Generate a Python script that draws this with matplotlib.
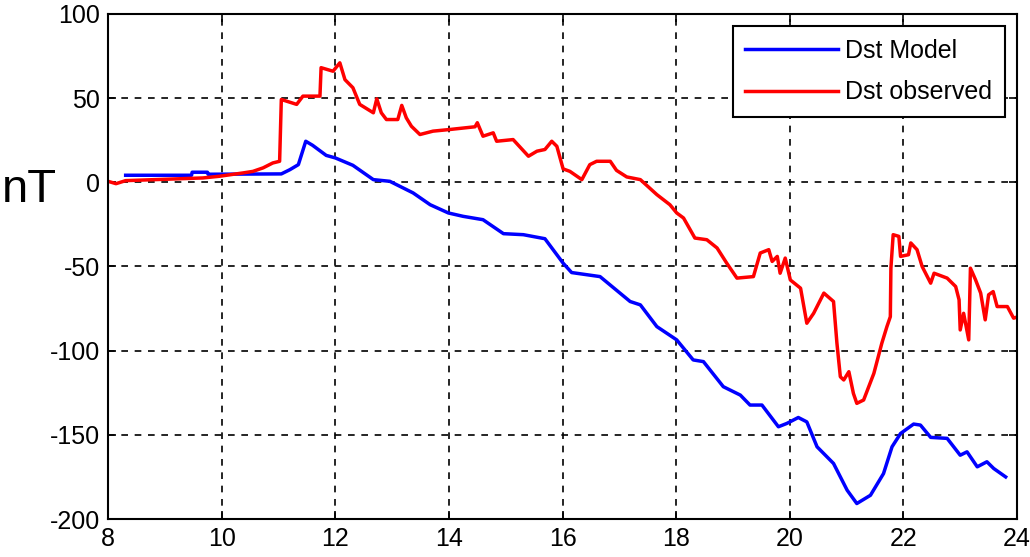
import matplotlib
matplotlib.use("Agg")
import matplotlib.pyplot as plt

# Dst Model (blue)
model_x = [8.31, 9.47, 9.48, 9.75, 9.76, 11.05, 11.2, 11.35, 11.48, 11.6, 11.84, 12.0, 12.31, 12.67, 12.96,
           13.37, 13.67, 13.99, 14.25, 14.6, 14.96, 15.31, 15.69, 16.01, 16.16, 16.66, 17.19, 17.37,
           17.66, 18.01, 18.3, 18.48, 18.83, 19.13, 19.3, 19.51, 19.8, 19.95, 20.15, 20.3, 20.48,
           20.77, 21.01, 21.18, 21.42, 21.65, 21.8, 21.95, 22.18, 22.3, 22.48, 22.77, 23.0, 23.12,
           23.3, 23.47, 23.59, 23.8]
model_y = [4.2, 4.2, 6.0, 6.0, 4.8, 5.0, 7.5, 10.5, 24.4, 22.0, 16.0, 14.5, 10.1, 1.6, 0.6,
           -6.3, -13.3, -18.2, -20.2, -22.2, -30.5, -31.1, -33.5, -48.0, -53.6, -56.0, -70.8, -72.8,
           -85.7, -93.6, -105.5, -106.5, -121.4, -126.4, -132.3, -132.3, -145.2, -143.2, -139.7, -142.3, -157.1,
           -167.0, -182.9, -190.8, -185.9, -173.0, -157.1, -149.2, -143.6, -144.2, -151.5, -152.1, -162.1, -160.1,
           -169.0, -166.0, -170.0, -175.0]

# Dst observed (red)
obs_x = [8.0, 8.14, 8.31, 9.67, 9.96, 10.38, 10.55, 10.73, 10.9, 11.02, 11.05, 11.32, 11.43, 11.73, 11.75,
         11.96, 12.08, 12.17, 12.31, 12.43, 12.67, 12.73, 12.81, 12.9, 13.1, 13.17, 13.25, 13.34, 13.49,
         13.72, 14.02, 14.46, 14.5, 14.6, 14.78, 14.84, 15.13, 15.4, 15.55, 15.69, 15.81, 15.9, 16.01,
         16.13, 16.34, 16.48, 16.6, 16.84, 16.95, 17.13, 17.37, 17.66, 17.89, 18.01, 18.13, 18.33, 18.54,
         18.72, 18.89, 19.07, 19.36, 19.48, 19.63, 19.69, 19.78, 19.83, 19.92, 20.01, 20.19, 20.3, 20.42,
         20.6, 20.77, 20.83, 20.89, 20.95, 21.04, 21.12, 21.18, 21.3, 21.48, 21.62, 21.71, 21.77, 21.78,
         21.82, 21.92, 21.95, 22.09, 22.13, 22.24, 22.33, 22.48, 22.54, 22.77, 22.92, 22.98, 23.0, 23.06,
         23.15, 23.18, 23.27, 23.36, 23.44, 23.5, 23.58, 23.65, 23.83, 23.94, 24.0]
obs_y = [0.6, -0.8, 1.0, 2.6, 3.6, 5.6, 6.5, 8.6, 11.5, 12.5, 49.2, 46.3, 51.2, 51.2, 68.1,
         66.0, 71.0, 61.0, 56.2, 46.3, 41.3, 49.6, 41.3, 37.3, 37.3, 45.7, 38.3, 33.3, 28.4,
         30.4, 31.4, 33.0, 35.4, 27.4, 29.4, 24.4, 25.4, 15.5, 18.5, 19.5, 24.4, 21.4, 8.0,
         6.5, 1.6, 10.5, 12.5, 12.5, 7.1, 3.2, 1.6, -7.3, -13.3, -18.2, -21.2, -33.1, -34.1,
         -39.0, -48.0, -56.9, -56.0, -42.0, -40.0, -47.0, -44.0, -54.0, -45.0, -58.0, -62.9, -83.7, -77.8,
         -65.8, -70.8, -95.6, -115.5, -117.4, -112.5, -125.4, -131.3, -129.3, -113.5, -95.6, -85.7, -79.8, -51.0,
         -31.1, -32.1, -44.0, -43.0, -36.0, -40.0, -50.0, -59.9, -54.0, -56.9, -61.9, -69.8, -87.7, -77.8,
         -93.6, -51.0, -57.9, -65.8, -81.7, -66.8, -64.9, -73.8, -73.8, -80.7, -80.0]

x_ticks = [8, 10, 12, 14, 16, 18, 20, 22, 24]
y_ticks = [-200, -150, -100, -50, 0, 50, 100]

plt.rcParams['font.family'] = ['Liberation Sans', 'DejaVu Sans']
plt.rcParams['axes.unicode_minus'] = False

fig = plt.figure(figsize=(10.3, 5.57), dpi=100)
ax = fig.add_axes([0.1049, 0.0682, 0.8825, 0.9067])
ax.plot(model_x, model_y, color='#0000ff', lw=2.5, label='Dst Model')
ax.plot(obs_x, obs_y, color='#ff0000', lw=2.5, label='Dst observed')
ax.set_xlim(8, 24)
ax.set_ylim(-200, 100)
ax.set_xticks(x_ticks)
ax.set_yticks(y_ticks)
ax.tick_params(direction='in', top=True, right=True, labelsize=18, length=6, width=1.2, pad=6)
ax.grid(True, color='black', linestyle=(0, (4, 4)), linewidth=1.2)
for s in ax.spines.values():
    s.set_linewidth(1.5)
ax.text(-0.086, 0.651, 'nT', transform=ax.transAxes, rotation=0, fontsize=34,
        ha='center', va='center')
leg = ax.legend(loc='upper right', fontsize=18, handlelength=3.7, handletextpad=0.3,
                fancybox=False, framealpha=1, edgecolor='black', borderpad=0.5,
                labelspacing=0.7, borderaxespad=0.5)
leg.get_frame().set_linewidth(1.5)
fig.savefig('out.png', dpi=100)
